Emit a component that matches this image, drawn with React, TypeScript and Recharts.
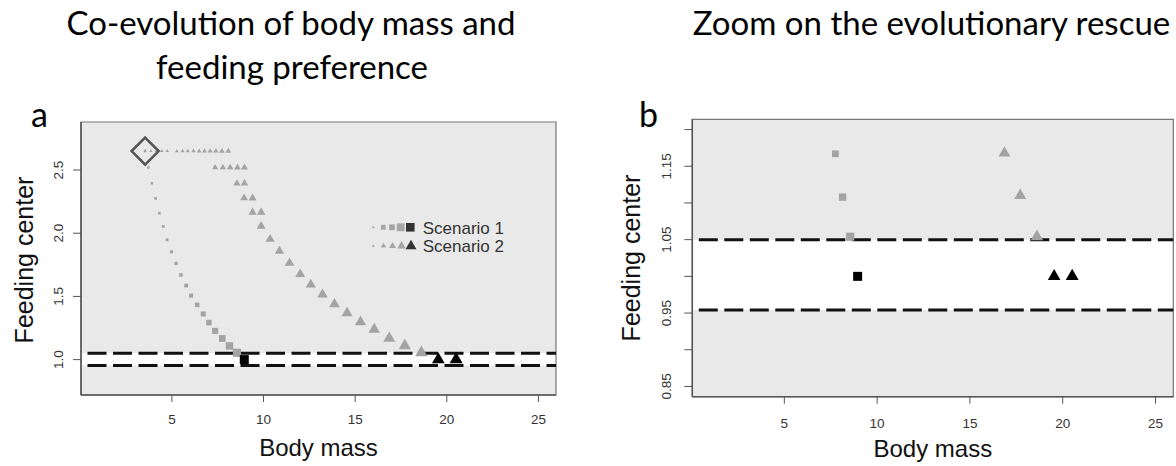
import React from 'react';
import { ScatterChart, Scatter, XAxis, YAxis, CartesianGrid, ReferenceLine, ReferenceArea } from 'recharts';

// ---- data ----
const scenario1Mass = [3.54, 3.72, 3.91, 4.11, 4.32, 4.53, 4.74, 4.98, 5.23, 5.49, 5.78, 6.05, 6.38, 6.71, 7.02, 7.36, 7.75, 8.14, 8.55, 8.95];
const scenario1Feeding = [2.65, 2.52, 2.395, 2.276, 2.159, 2.054, 1.948, 1.853, 1.761, 1.67, 1.586, 1.507, 1.433, 1.361, 1.293, 1.227, 1.167, 1.108, 1.054, 1.0];

const scenario2Mass = [3.54, 3.85, 4.15, 4.45, 4.75, 5.27, 5.58, 5.87, 6.18, 6.49, 6.78, 7.09, 7.4, 7.73, 8.08,
  7.36, 7.78, 8.18, 8.58, 8.96, 8.55, 8.96, 8.94, 9.4, 9.4, 9.87,
  9.87, 10.36, 10.87, 11.42, 12.0, 12.58, 13.22, 13.87, 14.56, 15.29, 16.04, 16.86, 17.71, 18.61, 19.54, 20.51];
const scenario2Feeding = [2.65, 2.65, 2.65, 2.65, 2.65, 2.65, 2.65, 2.65, 2.65, 2.65, 2.65, 2.65, 2.65, 2.65, 2.65,
  2.52, 2.52, 2.52, 2.52, 2.52, 2.395, 2.395, 2.278, 2.278, 2.165, 2.165,
  2.056, 1.953, 1.858, 1.765, 1.676, 1.594, 1.515, 1.438, 1.369, 1.298, 1.238, 1.168, 1.11, 1.054, 1.0, 1.0];

const massTicks = [5, 10, 15, 20, 25];
const feedingTicksA = [1.0, 1.5, 2.0, 2.5];
const feedingTicksB = [0.85, 0.9, 0.95, 1.0, 1.05, 1.1, 1.15, 1.2];
const feedingLabelsB = [0.85, 0.95, 1.05, 1.15];
const rescueBand = [0.954, 1.05];
const massLimits = [1, 25];
const feedingLimitsA = [0.8, 2.8];
const feedingLimitsB = [0.85, 1.2];

const titleA = ['Co-evolution of body mass and', 'feeding preference'];
const titleB = 'Zoom on the evolutionary rescue';
const legendLabels = ['Scenario 1', 'Scenario 2'];

// ---- helpers ----
const pad = (r: number[]) => [r[0] - 0.04 * (r[1] - r[0]), r[1] + 0.04 * (r[1] - r[0])];
const domX = pad(massLimits);
const domA = pad(feedingLimitsA);
const domB = pad(feedingLimitsB);

const build = (mass: number[], feeding: number[]) =>
  mass.map((m, i) => ({ mass: m, feeding: feeding[i], step: i, n: mass.length }));
const s1 = build(scenario1Mass, scenario1Feeding);
const s2 = build(scenario2Mass, scenario2Feeding);
const inB = (p: any) => p.feeding >= domB[0] && p.feeding <= domB[1];
const s1b = s1.filter(inB);
const s2b = s2.filter(inB);
const start = [s1[0]];

const GRAY = '#a3a3a3';
const AXIS = '#555';
const SANS = '"Liberation Sans", Arial, Helvetica, sans-serif';
const TITLE = 'Lato, "Open Sans", sans-serif';

const colorOf = (p: any) => (p.feeding <= rescueBand[1] ? '#000' : GRAY);

const SquareShape = (props: any) => {
  const { cx, cy, payload } = props;
  const t = payload.step / (payload.n - 1);
  const s = 2.5 + 6.5 * Math.pow(t, 2.5);
  return <rect x={cx - s / 2} y={cy - s / 2} width={s} height={s} fill={colorOf(payload)} />;
};

const TriangleShape = (props: any) => {
  const { cx, cy, payload } = props;
  const t = payload.step / (payload.n - 1);
  const s = 3 + 10 * Math.pow(t, 1.2);
  const h = s * 0.866;
  const pts = `${cx},${cy - (2 * h) / 3} ${cx - s / 2},${cy + h / 3} ${cx + s / 2},${cy + h / 3}`;
  return <polygon points={pts} fill={colorOf(payload)} />;
};

const DiamondShape = (props: any) => {
  const { cx, cy } = props;
  const r = 13.5;
  return <polygon points={`${cx},${cy - r} ${cx + r},${cy} ${cx},${cy + r} ${cx - r},${cy}`} fill="none" stroke="#555" strokeWidth={2.6} />;
};

const XTick = (props: any) => {
  const { x, y, payload } = props;
  return (
    <text x={x} y={y} dy="0.36em" textAnchor="middle" fontSize={13.5} fill="#333" fontFamily={SANS}>
      {payload.value}
    </text>
  );
};

const makeYTick = (labels: number[] | null, digits: number) => (props: any) => {
  const { x, y, payload } = props;
  const v = payload.value;
  if (labels && !labels.some((l) => Math.abs(l - v) < 1e-9)) return <g />;
  return (
    <text x={x} y={y} transform={`rotate(-90 ${x} ${y})`} textAnchor="middle" fontSize={13.5} fill="#333" fontFamily={SANS}>
      {v.toFixed(digits)}
    </text>
  );
};
const YTickA = makeYTick(null, 1);
const YTickB = makeYTick(feedingLabelsB, 2);

const Panel = (p: {
  width: number; height: number; top: number; right: number; yWidth: number; xHeight: number;
  yDomain: number[]; yTicks: number[]; yTick: any; yMargin: number; xMargin: number;
  d1: any[]; d2: any[]; showStart: boolean;
}) => (
  <ScatterChart width={p.width} height={p.height} margin={{ top: p.top, right: p.right, bottom: 0, left: 0 }}>
    <CartesianGrid fill="#e9e9e9" horizontal={false} vertical={false} />
    <ReferenceArea y1={rescueBand[0]} y2={rescueBand[1]} fill="#ffffff" fillOpacity={1} stroke="none" />
    <ReferenceLine y={rescueBand[1]} stroke="#111" strokeWidth={3} strokeDasharray="19 6.5" strokeDashoffset={19} />
    <ReferenceLine y={rescueBand[0]} stroke="#111" strokeWidth={3} strokeDasharray="19 6.5" strokeDashoffset={19} />
    <ReferenceArea x1={domX[0]} x2={domX[1]} y1={p.yDomain[0]} y2={p.yDomain[1]} fill="none" stroke="#777" strokeWidth={1.2} />
    <XAxis type="number" dataKey="mass" domain={domX} ticks={massTicks} allowDataOverflow height={p.xHeight}
      tickSize={7} tickMargin={p.xMargin} tick={<XTick />} axisLine={{ stroke: AXIS, strokeWidth: 1.5 }} tickLine={{ stroke: AXIS }} />
    <YAxis type="number" dataKey="feeding" domain={p.yDomain} ticks={p.yTicks} allowDataOverflow width={p.yWidth}
      tickSize={8} tickMargin={p.yMargin} tick={p.yTick} axisLine={{ stroke: AXIS, strokeWidth: 1.5 }} tickLine={{ stroke: AXIS }} />
    <Scatter data={p.d1} shape={SquareShape} isAnimationActive={false} />
    <Scatter data={p.d2} shape={TriangleShape} isAnimationActive={false} />
    {p.showStart && <Scatter data={start} shape={DiamondShape} isAnimationActive={false} />}
  </ScatterChart>
);

const legendSquares = [1.8, 4.8, 5.8, 7.8, 8.6];
const legendSquareX = [373.3, 383.3, 392, 400.7, 410.3];
const legendTriangles = [3, 5.5, 7, 8.5, 11];
const legendTriangleX = [373.3, 383.5, 392.5, 401.5, 411];

export default function App() {
  return (
    <div style={{ position: 'absolute', left: 0, top: 0, width: 1176, height: 466, background: '#fff', overflow: 'hidden' }}>
      <div style={{ position: 'absolute', left: 0, top: 0 }}>
        <Panel width={590} height={466} top={122} right={34} yWidth={81} xHeight={71}
          yDomain={domA} yTicks={feedingTicksA} yTick={<YTickA />} yMargin={10} xMargin={17}
          d1={s1} d2={s2} showStart={true} />
      </div>
      <div style={{ position: 'absolute', left: 590, top: 0 }}>
        <Panel width={586} height={466} top={119.3} right={2.7} yWidth={102.3} xHeight={69.3}
          yDomain={domB} yTicks={feedingTicksB} yTick={<YTickB />} yMargin={13} xMargin={19}
          d1={s1b} d2={s2b} showStart={false} />
      </div>
      <svg width={1176} height={466} style={{ position: 'absolute', left: 0, top: 0, pointerEvents: 'none' }}>
        <g fontFamily={TITLE} fill="#000" fontSize={33}>
          <text x={291} y={35} textAnchor="middle">{titleA[0]}</text>
          <text x={292} y={79} textAnchor="middle">{titleA[1]}</text>
          <text x={931.5} y={35} textAnchor="middle">{titleB}</text>
        </g>
        <g fontFamily={TITLE} fill="#000" fontSize={34}>
          <text x={31} y={127}>a</text>
          <text x={639} y={127}>b</text>
        </g>
        <g fontFamily={SANS} fill="#111" fontSize={24}>
          <text x={318.5} y={456} textAnchor="middle">Body mass</text>
          <text x={932.8} y={457} textAnchor="middle">Body mass</text>
        </g>
        <g fontFamily={SANS} fill="#111" fontSize={25}>
          <text x={33} y={260} textAnchor="middle" transform="rotate(-90 33 260)">Feeding center</text>
          <text x={640} y={258} textAnchor="middle" transform="rotate(-90 640 258)">Feeding center</text>
        </g>
        <g>
          {legendSquares.map((s, i) => (
            <rect key={'ls' + i} x={legendSquareX[i] - s / 2} y={227.3 - s / 2} width={s} height={s}
              fill={i === legendSquares.length - 1 ? '#333' : '#a6a6a6'} />
          ))}
          {legendTriangles.map((s, i) => {
            const cx = legendTriangleX[i];
            const cy = 246;
            const h = s * 0.866;
            return (
              <polygon key={'lt' + i}
                points={`${cx},${cy - (2 * h) / 3} ${cx - s / 2},${cy + h / 3} ${cx + s / 2},${cy + h / 3}`}
                fill={i === legendTriangles.length - 1 ? '#333' : '#a6a6a6'} />
            );
          })}
          <g fontFamily={SANS} fill="#333" fontSize={17}>
            <text x={422.7} y={233.5}>{legendLabels[0]}</text>
            <text x={422.7} y={252.3}>{legendLabels[1]}</text>
          </g>
        </g>
      </svg>
    </div>
  );
}
